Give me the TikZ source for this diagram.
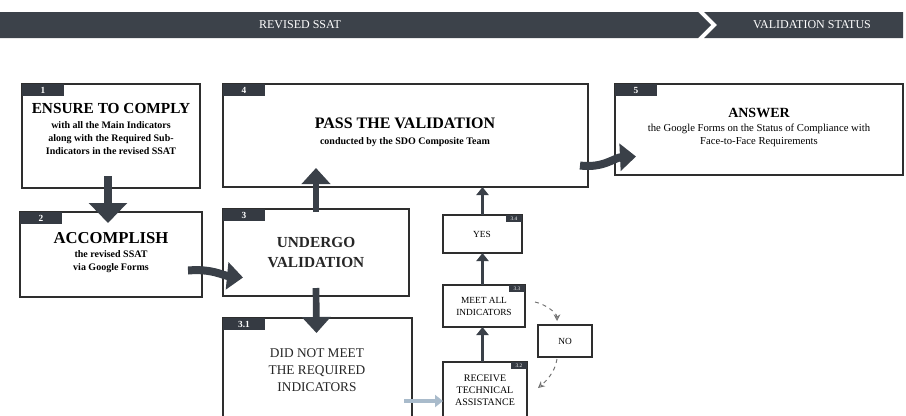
\documentclass[tikz,border=0pt]{standalone}
\usepackage{fontspec}
\setmainfont{Liberation Serif}
\usetikzlibrary{arrows.meta,calc}
\definecolor{bannercol}{HTML}{3C424A}
\definecolor{tabcol}{HTML}{353A42}
\definecolor{arrowcol}{HTML}{3A4048}
\definecolor{linecol}{HTML}{2E2E2E}
\definecolor{lightarrow}{HTML}{A9BBCB}
\definecolor{dashcol}{HTML}{707070}
\tikzset{
  box/.style={draw=linecol, line width=1.1pt, rectangle, inner sep=0pt, outer sep=0pt, anchor=north west},
  sbox/.style={draw=linecol, line width=0.9pt, rectangle, inner sep=0pt, outer sep=0pt, anchor=north west},
  tabbox/.style={fill=tabcol, text=white, inner sep=0pt, outer sep=0pt, minimum width=31.5pt, minimum height=9pt, anchor=north west, font=\bfseries\fontsize{7}{7}\selectfont},
  stab/.style={fill=tabcol, text=white, inner sep=0pt, outer sep=0pt, minimum width=12pt, minimum height=5.5pt, anchor=north east, font=\fontsize{4}{4}\selectfont},
  bigarrow/.style={draw=arrowcol, line width=5pt, -{Triangle[width=21pt,length=12pt]}},
  swoosh/.style={draw=arrowcol, line width=6pt, -{Triangle[width=20pt,length=12pt]}},
  smallarrow/.style={draw=arrowcol, line width=2.2pt, -{Triangle[width=9pt,length=6pt]}},
  dasharrow/.style={draw=dashcol, dashed, line width=0.7pt, -{Stealth[open,length=5pt,width=5pt]}},
  lightarr/.style={draw=lightarrow, line width=3pt, -{Triangle[width=9pt,length=6pt]}},
  head/.style={font=\bfseries\fontsize{11.5}{13}\selectfont, align=center, text=black!85},
  banner/.style={text=white, font=\fontsize{9}{9}\selectfont},
}
\begin{document}
\begin{tikzpicture}[x=0.75pt,y=-0.75pt]
\clip (0,0) rectangle (906,415);
\fill[white] (0,0) rectangle (906,415);

% banner
\fill[bannercol] (0,12) -- (698,12) -- (711,25) -- (698,38) -- (0,38) -- cycle;
\fill[bannercol] (704,12) -- (903,12) -- (903,38) -- (704,38) -- (717,25) -- cycle;
\node[banner] (ban1) at (300,25) {REVISED SSAT};
\node[banner] (ban2) at (812,25) {VALIDATION STATUS};

% main boxes
\node[box, minimum width=133.5pt, minimum height=78pt] (b1) at (22,84) {};
\node[box, minimum width=136.5pt, minimum height=63.75pt] (b2) at (20,212) {};
\node[box, minimum width=139.5pt, minimum height=65.25pt] (b3) at (223,209) {};
\node[box, minimum width=141.75pt, minimum height=90pt] (b31) at (223,318) {};
\node[box, minimum width=273.75pt, minimum height=77.25pt] (b4) at (223,84) {};
\node[box, minimum width=216pt, minimum height=68.25pt] (b5) at (615,84) {};
\node[sbox, minimum width=59.25pt, minimum height=28.5pt] (yes) at (443,215) {};
\node[sbox, minimum width=61.5pt, minimum height=31.5pt] (meet) at (443,285) {};
\node[sbox, minimum width=40.5pt, minimum height=24pt] (no) at (538,325) {};
\node[sbox, minimum width=63pt, minimum height=52.5pt] (rec) at (443,362) {};

% tabs
\node[tabbox] (t1) at (b1.north west) {1};
\node[tabbox] (t2) at (b2.north west) {2};
\node[tabbox] (t3) at (b3.north west) {3};
\node[tabbox] (t31) at (b31.north west) {3.1};
\node[tabbox] (t4) at (b4.north west) {4};
\node[tabbox] (t5) at (b5.north west) {5};
\node[stab] (tyes) at (yes.north east) {3.4};
\node[stab] (tmeet) at (meet.north east) {3.3};
\node[stab] (trec) at (rec.north east) {3.2};

% texts
\node (x1) at (111,131) {\begin{tabular}{c}{\fontsize{11.5}{13}\selectfont\bfseries ENSURE TO COMPLY}\\[-1pt]
  {\fontsize{7.5}{9}\selectfont\bfseries with all the Main Indicators}\\[-2pt]
  {\fontsize{7.5}{9}\selectfont\bfseries along with the Required Sub-}\\[-2pt]
  {\fontsize{7.5}{9}\selectfont\bfseries Indicators in the revised SSAT}\end{tabular}};
\node (x2) at (111,254) {\begin{tabular}{c}{\fontsize{12.5}{13}\selectfont\bfseries ACCOMPLISH}\\[-2pt]
  {\fontsize{7.5}{9}\selectfont\bfseries the revised SSAT}\\[-2pt]
  {\fontsize{7.5}{9}\selectfont\bfseries via Google Forms}\end{tabular}};
\node[head, font=\bfseries\fontsize{11.5}{15}\selectfont] (x3) at (316,253) {UNDERGO\\VALIDATION};
\node[align=center, font=\fontsize{10}{12.5}\selectfont, text=black!85] (x31) at (317,370) {DID NOT MEET\\THE REQUIRED\\INDICATORS};
\node (x4) at (405,133) {\begin{tabular}{c}{\fontsize{12}{13}\selectfont\bfseries PASS THE VALIDATION}\\[0pt]
  {\fontsize{7.5}{9}\selectfont\bfseries conducted by the SDO Composite Team}\end{tabular}};
\node (x5) at (759,128) {\begin{tabular}{c}{\fontsize{10.5}{12}\selectfont\bfseries ANSWER}\\[-2pt]
  {\fontsize{8}{9.5}\selectfont the Google Forms on the Status of Compliance with}\\[-2pt]
  {\fontsize{8}{9.5}\selectfont Face-to-Face Requirements}\end{tabular}};
\node[font=\fontsize{7}{8}\selectfont] (xyes) at (482,234) {YES};
\node[align=center, font=\fontsize{7}{9}\selectfont] (xmeet) at (484,306) {MEET ALL\\INDICATORS};
\node[font=\fontsize{7}{8}\selectfont] (xno) at (565,341) {NO};
\node[align=center, font=\fontsize{7.5}{9}\selectfont] (xrec) at (485,390) {RECEIVE\\TECHNICAL\\ASSISTANCE};

% connectors
\draw[bigarrow, line width=6pt, -{Triangle[width=28pt,length=15pt]}] ($(b1.south)+(-3,-12)$) -- ($(b2.north)+(-3,11)$);
\draw[swoosh] ($(b2.east)+(-14,16)$) .. controls ($(b2.east)+(10,14)$) and ($(b3.west)+(0,23)$) .. ($(b3.west)+(20,25)$);
\draw[bigarrow] ($(b3.north)+(0,3)$) -- ($(b3.north |- b4.south)+(0,-19)$);
\draw[bigarrow] ($(b3.south)+(0,-8)$) -- ($(b31.north)+(-1,15)$);
\draw[swoosh] ($(b4.east)+(-8,30)$) .. controls ($(b4.east)+(15,33)$) and ($(b5.west)+(0,28)$) .. ($(b5.west)+(21,27)$);
\draw[smallarrow] (yes.north) -- (yes.north |- b4.south);
\draw[smallarrow] (meet.north -| yes.south) -- (yes.south);
\draw[smallarrow] (rec.north -| yes.south) -- (meet.south -| yes.south);
\draw[dasharrow] ($(meet.east)+(10,-4)$) .. controls ($(meet.east)+(20,-2)$) and ($(no.north)+(-8,-12)$) .. ($(no.north)+(-8,-4)$);
\draw[dasharrow] ($(no.south)+(-8,2)$) .. controls ($(no.south)+(-10,16)$) and ($(rec.north east)+(18,20)$) .. ($(rec.north east)+(11,26)$);
\coordinate (c31) at (404,401);
\draw[lightarr] (c31) -- (rec.west |- c31);
\end{tikzpicture}
\end{document}
